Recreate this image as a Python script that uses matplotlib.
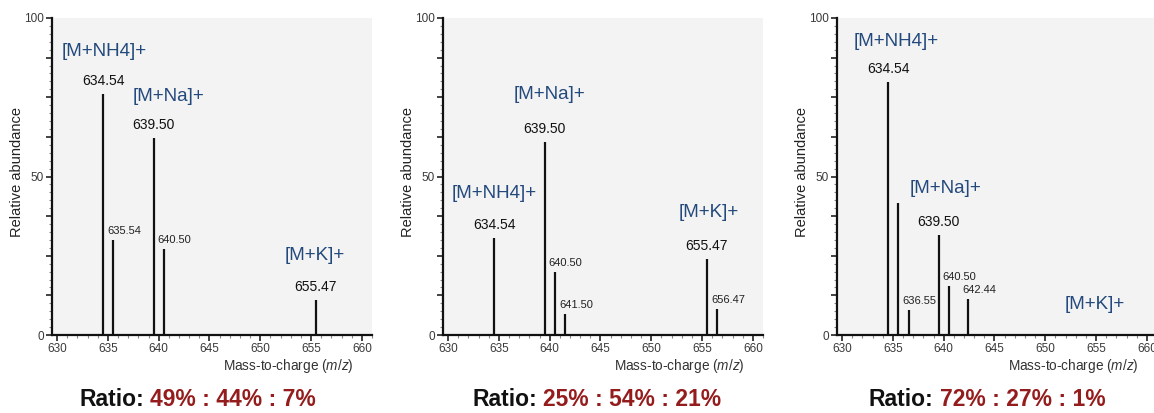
import matplotlib
matplotlib.use("Agg")
import matplotlib.pyplot as plt
from matplotlib.ticker import MultipleLocator, FuncFormatter

plt.rcParams['font.family'] = ['Liberation Sans', 'DejaVu Sans']
plt.rcParams['mathtext.fontset'] = 'custom'
plt.rcParams['mathtext.rm'] = 'Liberation Sans'
plt.rcParams['mathtext.it'] = 'Liberation Sans:italic'

# ---- data: peaks per spectrum (m/z, relative abundance) ----
mz_1 = [634.54, 635.54, 639.50, 640.50, 655.47]
ab_1 = [76, 30, 62, 27, 11]
lab_1 = ['634.54', '635.54', '639.50', '640.50', '655.47']

mz_2 = [634.54, 639.50, 640.50, 641.50, 655.47, 656.47]
ab_2 = [30.5, 61, 20, 6.6, 24, 8.2]
lab_2 = ['634.54', '639.50', '640.50', '641.50', '655.47', '656.47']

mz_3 = [634.54, 635.54, 636.55, 639.50, 640.50, 642.44]
ab_3 = [79.7, 41.5, 7.9, 31.6, 15.5, 11.4]
lab_3 = ['634.54', None, '636.55', '639.50', '640.50', '642.44']

# which labels are the big (main adduct) ones
main_1 = [True, False, True, False, True]
main_2 = [True, True, False, False, True, False]
main_3 = [True, False, False, True, False, False]

ions = ['[M+NH4]+', '[M+Na]+', '[M+K]+']
ratios = ['49% : 44% : 7%', '25% : 54% : 21%', '72% : 27% : 1%']

# ion label placement (data coords) per panel
ion_pos = [
    [(634.6, 89.5), (641.0, 75.3), (655.4, 25.0)],
    [(634.5, 44.7), (640.0, 76.0), (655.7, 38.6)],
    [(635.3, 92.7), (640.2, 46.2), (654.9, 9.5)],
]

BLUE = '#23497d'
RED = '#941c1c'
BG = '#f3f3f3'

fig = plt.figure(figsize=(11.54, 4.13), dpi=100)
W, H = 1154, 413
lefts = [52, 443, 837]

panels = [(mz_1, ab_1, lab_1, main_1), (mz_2, ab_2, lab_2, main_2),
          (mz_3, ab_3, lab_3, main_3)]

for k, (mz, ab, labs, mains) in enumerate(panels):
    ax = fig.add_axes([lefts[k] / W, 78 / H, 320 / W, 317 / H])
    ax.set_facecolor(BG)
    ax.vlines(mz, 0, ab, color='#111111', linewidth=1.6)
    ax.set_xlim(629.5, 661)
    ax.set_ylim(0, 100)

    for s in ['top', 'right']:
        ax.spines[s].set_visible(False)
    for s in ['left', 'bottom']:
        ax.spines[s].set_linewidth(1.6)
        ax.spines[s].set_color('#111111')

    ax.xaxis.set_major_locator(MultipleLocator(5))
    ax.xaxis.set_minor_locator(MultipleLocator(1))
    ax.yaxis.set_major_locator(MultipleLocator(12.5))
    ax.yaxis.set_minor_locator(MultipleLocator(2.5))
    ax.yaxis.set_major_formatter(FuncFormatter(
        lambda v, p: '%d' % v if abs(v % 50) < 1e-6 else ''))
    ax.xaxis.set_major_formatter(FuncFormatter(lambda v, p: '%d' % v))
    ax.tick_params(which='major', length=4.5, width=1.2, color='#222222',
                   labelsize=8.5, labelcolor='#3a3a3a', pad=1.5)
    ax.tick_params(which='minor', length=2.5, width=0.8, color='#888888')

    ax.set_ylabel('Relative abundance', fontsize=10.5, color='#222222')
    ax.yaxis.set_label_coords(-0.088, 0.514)
    ax.text(0.74, -0.098, r'Mass-to-charge $\mathit{(m/z)}$', transform=ax.transAxes,
            ha='center', va='center', fontsize=9.8, color='#333333')

    for x, y, t, m in zip(mz, ab, labs, mains):
        if t is None:
            continue
        if m:
            ax.annotate(t, (x, y), xytext=(0, 13), textcoords='offset pixels',
                        ha='center', va='center', fontsize=10, color='#111111')
        else:
            ax.annotate(t, (x, y), xytext=(-6, 9), textcoords='offset pixels',
                        ha='left', va='center', fontsize=8, color='#222222')

    for name, (px, py) in zip(ions, ion_pos[k]):
        ax.text(px, py, name, ha='center', va='center', fontsize=13.5, color=BLUE)

# ---- ratio captions below each panel ----
renderer = fig.canvas.get_renderer()
centers = [198, 597, 987]
for c, r in zip(centers, ratios):
    t1 = fig.text(0, 13 / H, 'Ratio:', ha='left', va='center', fontsize=16.5,
                  fontweight='bold', color='#111111')
    t2 = fig.text(0, 13 / H, r, ha='left', va='center', fontsize=16.5,
                  fontweight='bold', color=RED)
    w1 = t1.get_window_extent(renderer).width
    w2 = t2.get_window_extent(renderer).width
    gap = 6
    x0 = c - (w1 + gap + w2) / 2
    t1.set_x(x0 / W)
    t2.set_x((x0 + w1 + gap) / W)

fig.savefig('out.png', dpi=100, facecolor='white')
